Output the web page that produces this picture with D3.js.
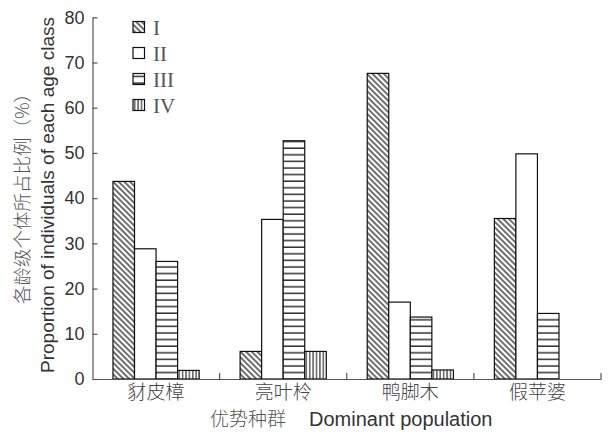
<!DOCTYPE html>
<html lang="zh">
<head>
    <meta charset="UTF-8">
    <script type="text/javascript" src="https://cdn.jsdelivr.net/npm/d3@7"></script>
    <style type="text/css">
        body { margin: 0; background: white; }
        .axis path, .axis line { stroke: #555; stroke-width: 1.2; }
        .tick text { font-family: "Liberation Sans", Arial, sans-serif; font-size: 18px; fill: #333; }
    </style>
</head>
<body>
<svg id="chart" width="614" height="433"></svg>
<script>
    // data
    var categories = ["豺皮樟", "亮叶柃", "鸭脚木", "假苹婆"];
    var series = ["Ⅰ", "Ⅱ", "Ⅲ", "Ⅳ"];
    var legendLabels = ["I", "II", "III", "IV"];
    var valuesI = [43.7, 6.1, 67.6, 35.5];
    var valuesII = [28.8, 35.3, 17.0, 49.8];
    var valuesIII = [26.0, 52.7, 13.7, 14.5];
    var valuesIV = [1.9, 6.1, 2.0, 0];
    var yTicks = [0, 10, 20, 30, 40, 50, 60, 70, 80];

    var allValues = [valuesI, valuesII, valuesIII, valuesIV];
    var rows = categories.map(function(c, i) {
        return { cat: c, vals: series.map(function(s, j) { return { s: s, k: j, v: allValues[j][i] }; }) };
    });

    var svg = d3.select("#chart");
    // plot box (window.top is reserved, so use own names)
    var mLeft = 92.5, mRight = 601, mTop = 17.3, mBottom = 379;

    // pattern fills
    var defs = svg.append("defs");
    var p1 = defs.append("pattern").attr("id", "pat0").attr("patternUnits", "userSpaceOnUse")
            .attr("width", 4).attr("height", 4).attr("patternTransform", "rotate(45)");
    p1.append("rect").attr("width", 4).attr("height", 4).attr("fill", "white");
    p1.append("line").attr("x1", 0).attr("y1", 2).attr("x2", 4).attr("y2", 2)
            .attr("stroke", "#222").attr("stroke-width", 1.3);
    var p2 = defs.append("pattern").attr("id", "pat1").attr("patternUnits", "userSpaceOnUse")
            .attr("width", 6).attr("height", 6);
    p2.append("rect").attr("width", 6).attr("height", 6).attr("fill", "white");
    var p3 = defs.append("pattern").attr("id", "pat2").attr("patternUnits", "userSpaceOnUse")
            .attr("width", 6).attr("height", 6.6);
    p3.append("rect").attr("width", 6).attr("height", 6.6).attr("fill", "white");
    p3.append("line").attr("x1", 0).attr("y1", 3).attr("x2", 6).attr("y2", 3)
            .attr("stroke", "#222").attr("stroke-width", 1.4);
    var p4 = defs.append("pattern").attr("id", "pat3").attr("patternUnits", "userSpaceOnUse")
            .attr("width", 3.4).attr("height", 6);
    p4.append("rect").attr("width", 3.4).attr("height", 6).attr("fill", "white");
    p4.append("line").attr("x1", 1.7).attr("y1", 0).attr("x2", 1.7).attr("y2", 6)
            .attr("stroke", "#222").attr("stroke-width", 1.1);

    // scales
    var x0 = d3.scaleBand().domain(categories).range([mLeft, mRight]).padding(0);
    var x1 = d3.scaleBand().domain(series).range([0, x0.bandwidth()]).paddingInner(0).paddingOuter(0.95);
    var y = d3.scaleLinear().domain([0, 80]).range([mBottom, mTop]);

    // bars
    var groups = svg.append("g").selectAll("g").data(rows).enter().append("g")
            .attr("transform", function(d) { return "translate(" + x0(d.cat) + ",0)"; });
    groups.selectAll("rect")
            .data(function(d) { return d.vals.filter(function(b) { return b.v > 0; }); })
            .enter().append("rect")
            .attr("x", function(b) { return x1(b.s); })
            .attr("y", function(b) { return y(b.v); })
            .attr("width", x1.bandwidth())
            .attr("height", function(b) { return y(0) - y(b.v); })
            .attr("fill", function(b) { return "url(#pat" + b.k + ")"; })
            .attr("stroke", "#111").attr("stroke-width", 1.2);

    // y axis, ticks pointing inward
    svg.append("g").attr("class", "axis")
            .attr("transform", "translate(" + mLeft + ",0)")
            .call(d3.axisLeft(y).tickValues(yTicks).tickSize(-5).tickSizeOuter(0).tickPadding(8));

    // x axis, labels only plus boundary ticks
    var gx = svg.append("g").attr("class", "axis")
            .attr("transform", "translate(0," + mBottom + ")")
            .call(d3.axisBottom(x0).tickSize(0).tickPadding(5));
    gx.selectAll(".tick text")
            .style("font-family", "'Noto Sans CJK SC', sans-serif")
            .style("font-weight", "300")
            .style("font-size", "19px")
            .style("fill", "#444")
            .attr("dy", "0.8em");
    gx.selectAll(".bound").data(categories).enter().append("line")
            .attr("x1", function(c) { return x0(c) + x0.bandwidth(); })
            .attr("x2", function(c) { return x0(c) + x0.bandwidth(); })
            .attr("y1", 0).attr("y2", -6)
            .attr("stroke", "#555").attr("stroke-width", 1.2);

    // axis titles
    svg.append("text")
            .attr("transform", "translate(23,194) rotate(-90)")
            .attr("text-anchor", "middle").attr("dy", "0.35em")
            .style("font-family", "'Noto Sans CJK SC', sans-serif")
            .style("font-weight", "300")
            .style("font-size", "18.5px").style("fill", "#555")
            .text("各龄级个体所占比例（%）");
    svg.append("text")
            .attr("transform", "translate(47,195) rotate(-90)")
            .attr("text-anchor", "middle").attr("dy", "0.35em")
            .style("font-family", "'Liberation Sans', Arial, sans-serif")
            .style("font-size", "19px").style("fill", "#333")
            .text("Proportion of individuals of each age class");
    var xt = svg.append("text")
            .attr("x", 210).attr("y", 426)
            .style("font-size", "19px").style("fill", "#333");
    xt.append("tspan").style("font-family", "'Noto Sans CJK SC', sans-serif").style("font-weight", "300")
            .style("fill", "#555").text("优势种群");
    xt.append("tspan").style("font-family", "'Liberation Sans', Arial, sans-serif")
            .style("font-size", "20px")
            .attr("dx", 23).text("Dominant population");

    // legend
    var legend = svg.append("g").selectAll("g").data(series).enter().append("g")
            .attr("transform", function(s, i) { return "translate(133," + (21.5 + i * 26) + ")"; });
    legend.append("rect").attr("width", 11.5).attr("height", 11)
            .attr("fill", function(s, i) { return "url(#pat" + i + ")"; })
            .attr("stroke", "#111").attr("stroke-width", 1.2);
    legend.append("text").attr("x", 20).attr("y", 13)
            .style("font-family", "'Liberation Serif', 'Times New Roman', serif")
            .style("font-size", "21px").style("fill", "#555")
            .text(function(s, i) { return legendLabels[i]; });
</script>
</body>
</html>
